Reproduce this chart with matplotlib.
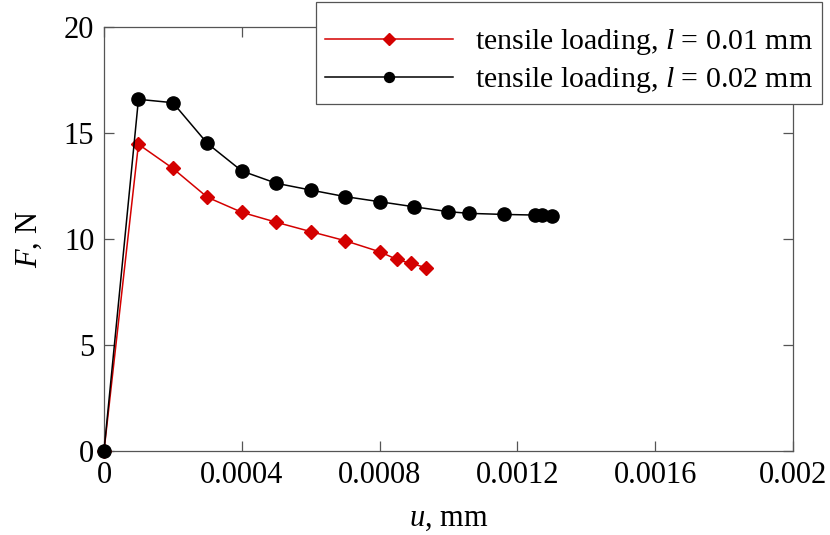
import matplotlib
matplotlib.use('Agg')
import matplotlib.pyplot as plt
import numpy as np

# data
u_l01 = [0, 0.0001, 0.0002, 0.0003, 0.0004, 0.0005, 0.0006, 0.0007,
         0.0008, 0.00085, 0.00089, 0.000935]
F_l01 = [0, 14.47, 13.33, 11.97, 11.26, 10.79, 10.35, 9.92,
         9.40, 9.04, 8.85, 8.65]

u_l02 = [0, 0.0001, 0.0002, 0.0003, 0.0004, 0.0005, 0.0006, 0.0007,
         0.0008, 0.0009, 0.001, 0.00106, 0.00116, 0.00125, 0.00127, 0.0013]
F_l02 = [0, 16.59, 16.43, 14.51, 13.21, 12.63, 12.31, 12.0,
         11.76, 11.52, 11.29, 11.21, 11.16, 11.13, 11.13, 11.08]

xticks = [0, 0.0004, 0.0008, 0.0012, 0.0016, 0.002]
xtick_labels = ['0', '0.0004', '0.0008', '0.0012', '0.0016', '0.002']
yticks = [0, 5, 10, 15, 20]

plt.rcParams['font.family'] = ['Liberation Serif', 'DejaVu Serif']
plt.rcParams['mathtext.fontset'] = 'custom'
plt.rcParams['mathtext.rm'] = 'Liberation Serif'
plt.rcParams['mathtext.it'] = 'Liberation Serif:italic'
font_size = 22

fig = plt.figure(figsize=(8.3, 5.35), dpi=100)
ax = fig.add_axes([0.1253, 0.157, 0.8301, 0.7925])

red = '#d40000'
ax.plot(u_l01, F_l01, color=red, lw=1.1, marker='D', markersize=7.5,
        label=r'tensile loading, $l$ = 0.01 mm', zorder=3, clip_on=False)
ax.plot(u_l02, F_l02, color='black', lw=1.1, marker='o', markersize=9.5,
        label=r'tensile loading, $l$ = 0.02 mm', zorder=3, clip_on=False)

ax.set_xlim(0, 0.002)
ax.set_ylim(0, 20)
ax.set_xticks(xticks)
ax.set_xticklabels(xtick_labels)
ax.set_yticks(yticks)
ax.tick_params(direction='in', which='both', top=True, right=True,
               length=7, width=0.9, color='#555555', labelsize=font_size, pad=7)
for s in ax.spines.values():
    s.set_color('#555555')
    s.set_linewidth(0.9)

ax.set_xlabel(r'$u$, mm', fontsize=font_size, labelpad=10)
ax.set_ylabel(r'$F$, N', fontsize=font_size, labelpad=14)

leg = ax.legend(loc='upper right', bbox_to_anchor=(1.042, 1.059), fontsize=21.5,
                title=' ', title_fontsize=6,
                fancybox=False, framealpha=1, edgecolor='#555555',
                handlelength=4.3, handletextpad=0.73, labelspacing=0.27,
                borderpad=0.3, borderaxespad=0, markerscale=0.75)
leg.get_frame().set_linewidth(0.9)
leg.set_zorder(5)

plt.savefig('out.png', dpi=100)
